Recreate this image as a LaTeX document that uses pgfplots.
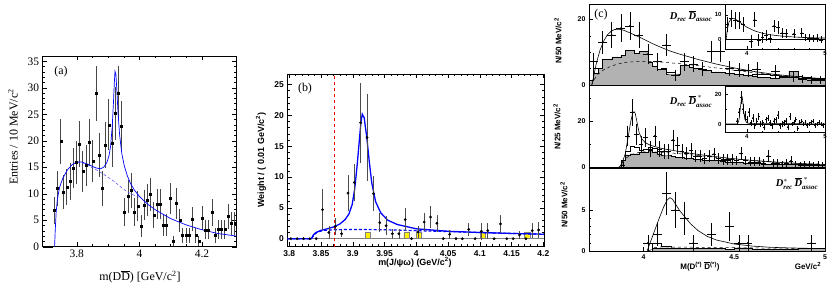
\documentclass[border=0pt]{standalone}
\usepackage{fontspec}
\setmainfont{Liberation Serif}
\setsansfont{Liberation Sans}
\usepackage{pgfplots}
\pgfplotsset{compat=1.18}
\pgfplotsset{
  rootaxis/.style={scale only axis, anchor=south west, axis line style={line width=0.5pt},
    major tick length=4.5bp, minor tick length=2.2bp, tick style={line width=0.4pt,black},
    /pgf/number format/assume math mode=true, clip=true},
  cpanel/.style={rootaxis, width=236bp, xmin=3.7, xmax=5.0, xtick={4,4.5,5}, minor x tick num=4,
    xtick pos=bottom, ytick pos=left,
    tick label style={font=\sffamily\bfseries\fontsize{7}{8}\selectfont},
    major tick length=4bp, minor tick length=2bp},
  cinset/.style={rootaxis, width=100bp, xmin=3.72, xmax=5.0, xtick={4,5}, minor x tick num=4,
    xtick pos=bottom, ytick pos=left, axis background/.style={fill=white},
    tick label style={font=\sffamily\bfseries\fontsize{6}{7}\selectfont},
    major tick length=3bp, minor tick length=1.5bp,
    xticklabel style={yshift=1bp}},
  cdata/.style={only marks, mark=*, mark size=0.55pt, black,
    error bars/.cd, x dir=both, x fixed=#1, y dir=both, y explicit,
    error bar style={line width=0.5pt, black}, error mark=none},
  cdata/.default=0.025,
}
\newcommand{\BD}{\mbox{\bfseries\itshape D}}
\newcommand{\BDbar}{\overline{\mbox{\bfseries\itshape D}}}
\newcommand{\BS}[1]{\mbox{\bfseries\itshape\fontsize{7}{8}\selectfont #1}}
\begin{document}
\begin{tikzpicture}
\useasboundingbox (0,0) rectangle (830bp,287bp);
%%%%%%%%%%%%%%%% Panel (a)
\begin{axis}[rootaxis, at={(42.7bp,40.3bp)}, width=194bp, height=190.7bp,
  xmin=3.691, xmax=4.311, ymin=0, ymax=36,
  xtick={3.8,4,4.2}, xticklabels={3.8,4,4.2}, minor x tick num=3,
  ytick={0,5,...,35}, minor y tick num=4,
  tick label style={font=\fontsize{11.5}{12}\selectfont}]
\addplot[only marks, mark=square*, mark size=1.0pt, black,
  error bars/.cd, y dir=both, y explicit,
  error bar style={gray!55!black, line width=0.7pt}, error mark=none]
 table[x index=0, y index=1, y error index=2] {
3.697 0 0
3.707 0 0
3.717 0 0
3.728 6.8 2.6
3.738 11.0 3.3
3.749 19.9 4.3
3.757 10.3 3.2
3.768 11.3 3.4
3.779 12.3 3.5
3.789 14.8 3.8
3.798 15.9 4.0
3.808 19.4 4.4
3.819 14.2 3.8
3.830 15.3 3.9
3.840 19.7 4.4
3.851 16.2 4.0
3.862 29.0 5.2
3.871 17.3 4.2
3.882 11.0 3.3
3.891 19.2 4.4
3.902 23.0 4.8
3.913 19.5 4.4
3.922 25.2 5.0
3.933 29.0 5.2
3.943 22.7 4.8
3.953 6.6 2.6
3.964 9.5 3.1
3.973 10.6 3.3
3.984 6.6 2.6
3.995 7.7 2.8
4.005 3.9 2.0
4.015 7.9 2.8
4.026 8.8 3.0
4.036 9.9 3.1
4.046 6.0 2.4
4.056 8.1 2.8
4.067 8.1 2.8
4.077 4.1 2.0
4.087 4.1 2.0
4.098 9.1 3.0
4.107 1.1 1.0
4.118 8.2 2.9
4.129 5.0 2.2
4.138 2.1 1.4
4.149 2.1 1.4
4.160 2.1 1.4
4.170 5.2 2.3
4.180 2.1 1.4
4.190 1.1 1.0
4.201 5.4 2.3
4.211 3.2 1.8
4.221 3.2 1.8
4.232 6.5 2.5
4.243 2.1 1.4
4.252 3.3 1.8
4.263 3.3 1.8
4.273 3.3 1.8
4.284 5.7 2.4
4.295 4.4 2.1
4.305 4.4 2.1
};
\addplot[blue!70!white, densely dashed, line width=0.5pt] coordinates {
(3.80,16.0)(3.82,15.8)(3.84,15.2)(3.86,14.6)(3.88,13.9)(3.90,13.1)(3.92,12.3)(3.94,11.3)(3.96,10.4)(3.98,9.8)(4.0,9.3)};
\addplot[blue, line width=0.7pt] coordinates {
(3.729,0)(3.731,3)(3.734,6.5)(3.738,9)(3.745,11.2)(3.755,12.9)(3.77,14.5)(3.785,15.5)(3.80,16.0)(3.815,16.0)(3.83,15.7)(3.845,15.3)(3.86,14.9)(3.875,14.7)(3.886,15.0)(3.896,15.9)(3.903,17.2)(3.908,19.0)(3.913,22.5)(3.917,27)(3.920,31)(3.922,33.1)(3.925,32.5)(3.928,29.5)(3.932,25)(3.937,21)(3.944,17.5)(3.952,15.2)(3.962,13.3)(3.972,11.9)(3.985,10.6)(4.0,9.5)(4.025,8.1)(4.05,7.0)(4.1,5.3)(4.15,4.1)(4.2,3.2)(4.25,2.5)(4.311,2.0)};
\end{axis}
\node[rotate=90, font=\fontsize{12}{13}\selectfont] at (13bp,150bp) {Entries / 10 MeV/c\textsuperscript{2}};
\node[font=\fontsize{12}{13}\selectfont] at (140bp,10bp) {m(D$\overline{\mbox{D}}$) [GeV/c\textsuperscript{2}]};
\node[font=\fontsize{12}{13}\selectfont] at (61bp,215bp) {(a)};
%%%%%%%%%%%%%%%% Panel (b)
\begin{axis}[rootaxis, at={(287.3bp,40.3bp)}, width=256.7bp, height=172.7bp,
  xmin=3.797, xmax=4.201, ymin=-1.3, ymax=26.7,
  xtick={3.8,3.85,...,4.21}, xticklabels={3.8,3.85,3.9,3.95,4,4.05,4.1,4.15,4.2}, minor x tick num=4,
  ytick={0,5,...,25}, minor y tick num=4,
  tick label style={font=\sffamily\bfseries\fontsize{8.5}{9}\selectfont}]
\addplot[gray, line width=0.8pt] coordinates {(3.797,0)(4.201,0)};
\addplot[ybar, bar width=0.008, fill=yellow, draw=gray, line width=0.4pt] coordinates {
(3.9235,1.0)(3.9845,1.0)(4.0045,1.0)(4.1045,1.0)(4.1745,1.1)};
\addplot[red, dashed, line width=0.7pt] coordinates {(3.8715,-1.3)(3.8715,26.7)};
\addplot[blue, densely dashed, line width=1.2pt] coordinates {
(3.797,0)(3.835,0)(3.84,0.7)(3.845,1.1)(3.855,1.35)(3.87,1.45)(3.9,1.5)(3.95,1.45)(4.0,1.3)(4.05,1.15)(4.1,1.0)(4.15,0.85)(4.201,0.72)};
\addplot[blue, line width=1.3pt] coordinates {
(3.797,0)(3.835,0)(3.838,0.6)(3.842,1.0)(3.85,1.35)(3.86,1.6)(3.87,1.9)(3.88,2.4)(3.888,3.1)(3.894,4.0)(3.899,5.5)(3.903,8)(3.907,12)(3.910,15.5)(3.913,19.0)(3.915,20.2)(3.918,19.6)(3.922,16.5)(3.926,12.5)(3.930,9.0)(3.936,6.0)(3.944,4.2)(3.955,3.0)(3.97,2.3)(4.0,1.6)(4.05,1.2)(4.1,1.0)(4.15,0.85)(4.201,0.72)};
\addplot[only marks, mark=*, mark size=1.2pt, black,
  error bars/.cd, y dir=both, y explicit,
  error bar style={gray!60!black, line width=0.6pt}, error mark=none]
 table[x index=0, y index=1, y error index=2] {
3.8025 0 0
3.8125 0 0
3.8225 0 0
3.8325 0 0
3.8425 0 0
3.8525 4.7 3.3
3.8625 1.0 1.0
3.8725 2.0 1.4
3.8825 0.8 0.6
3.8925 7.4 2.9
3.9025 9.1 3.0
3.9125 18.8 6.5
3.9225 16.4 7.0
3.9325 7.3 2.8
3.9425 2.6 1.5
3.9525 2.1 1.5
3.9625 0.8 0.8
3.9725 0.8 0.8
3.9825 3.1 1.9
3.9925 0 0
4.0025 1.1 1.0
4.0125 2.7 1.5
4.0225 3.5 1.8
4.0325 2.5 1.4
4.0425 0 0
4.0525 0.7 0.7
4.0625 0 0
4.0725 0 0
4.0825 1.5 1.1
4.0925 0 0
4.1025 1.2 1.4
4.1125 1.3 1.3
4.1225 0 0
4.1325 2.4 1.4
4.1425 0 0
4.1525 0 0
4.1625 0.6 0.6
4.1725 0 0
4.1825 1.3 1.2
4.1925 1.4 1.3
};
\end{axis}
\node[rotate=90, font=\sffamily\bfseries\fontsize{9}{10}\selectfont] at (261bp,127bp) {Weight / ( 0.01 GeV/c\textsuperscript{2})};
\node[font=\sffamily\bfseries\fontsize{9}{10}\selectfont] at (415bp,25bp) {m(J/ψω) (GeV/c\textsuperscript{2})};
\node[font=\fontsize{12}{13}\selectfont] at (305bp,198bp) {(b)};
%%%%%%%%%%%%%%%% Panel (c) top
\begin{axis}[cpanel, at={(589bp,202bp)}, height=81bp, ymin=0, ymax=24.7,
  ytick={0,20}, minor ytick={5,10,15}, xticklabels={}]
\addplot[const plot, fill=white, draw=black, line width=0.3pt] coordinates {
(3.700,1.5)(3.725,5.0)(3.750,5.0)(3.775,7.9)(3.800,7.9)(3.825,8.6)(3.850,8.6)(3.875,9.1)(3.900,10.5)(3.925,10.5)(3.950,9.6)(3.975,10.2)(4.000,10.2)(4.025,7.1)(4.050,5.8)(4.075,4.8)(4.100,5.2)(4.125,4.0)(4.150,4.0)(4.175,3.4)(4.200,6.0)(4.225,6.0)(4.250,5.5)(4.275,5.2)(4.300,5.0)(4.325,4.5)(4.350,4.5)(4.375,4.0)(4.400,4.0)(4.425,3.8)(4.450,3.5)(4.475,3.5)(4.500,3.3)(4.525,3.3)(4.550,3.0)(4.575,3.0)(4.600,3.3)(4.625,3.3)(4.650,3.3)(4.675,3.2)(4.700,3.0)(4.725,3.0)(4.750,2.8)(4.775,2.8)(4.800,4.2)(4.825,4.2)(4.850,2.6)(4.875,2.4)(4.900,2.4)(4.925,2.2)(4.950,2.2)(4.975,2.0)(5.000,2.0)} \closedcycle;
\addplot[const plot, fill=gray!60, draw=black, line width=0.3pt] coordinates {
(3.700,1.5)(3.725,3.5)(3.750,5.0)(3.775,7.9)(3.800,7.9)(3.825,8.6)(3.850,8.6)(3.875,9.1)(3.900,10.5)(3.925,10.5)(3.950,9.6)(3.975,10.2)(4.000,10.2)(4.025,7.1)(4.050,5.8)(4.075,4.8)(4.100,4.8)(4.125,3.4)(4.150,3.4)(4.175,3.4)(4.200,6.0)(4.225,6.0)(4.250,5.5)(4.275,5.2)(4.300,5.0)(4.325,4.5)(4.350,4.5)(4.375,4.0)(4.400,4.0)(4.425,3.8)(4.450,3.5)(4.475,3.5)(4.500,3.3)(4.525,3.3)(4.550,3.0)(4.575,3.0)(4.600,2.8)(4.625,2.5)(4.650,2.4)(4.675,2.4)(4.700,2.2)(4.725,2.2)(4.750,2.3)(4.775,2.3)(4.800,4.2)(4.825,4.2)(4.850,2.2)(4.875,2.0)(4.900,2.0)(4.925,1.8)(4.950,1.8)(4.975,1.8)(5.000,1.8)} \closedcycle;
\addplot[black, dashed, line width=0.5pt] coordinates {
(3.715,0)(3.73,1.8)(3.75,3.3)(3.78,4.6)(3.82,5.7)(3.86,6.4)(3.9,6.9)(3.95,7.1)(4.0,7.2)(4.1,7.0)(4.2,6.5)(4.3,5.9)(4.4,5.2)(4.5,4.5)(4.6,3.8)(4.7,3.2)(4.8,2.7)(4.9,2.2)(5.0,1.9)};
\addplot[black, line width=0.6pt] coordinates {
(3.715,0)(3.725,2.5)(3.74,6.5)(3.76,10.5)(3.78,13.3)(3.80,15.2)(3.82,16.3)(3.84,16.9)(3.86,17.0)(3.88,16.9)(3.90,16.5)(3.95,15.3)(4.0,14.0)(4.05,12.6)(4.1,11.4)(4.15,10.3)(4.2,9.4)(4.3,7.8)(4.4,6.4)(4.5,5.2)(4.6,4.2)(4.7,3.4)(4.8,2.8)(4.9,2.3)(5.0,1.9)};
\addplot[cdata] table[x index=0, y index=1, y error index=2] {
3.725 7.1 2.7
3.775 12.9 3.6
3.825 15.3 3.9
3.875 17.3 4.2
3.925 18.0 4.2
3.975 15.2 3.9
4.025 9.5 3.1
4.075 7.1 2.7
4.125 12.2 3.5
4.175 3.0 1.7
4.225 7.1 2.7
4.275 6.4 2.5
4.325 4.8 2.2
4.375 10.2 3.2
4.425 10.2 3.2
4.475 5.1 2.3
4.525 4.6 2.1
4.575 4.4 2.1
4.625 4.8 2.2
4.725 4.1 2.0
4.825 2.4 1.5
4.875 1.8 1.3
4.925 1.5 1.2
4.975 1.5 1.2
};
\end{axis}
%%%%%%%%%%%%%%%% Panel (c) middle
\begin{axis}[cpanel, at={(589bp,118.7bp)}, height=83.3bp, ymin=-0.35, ymax=35.9,
  ytick={0,20}, minor ytick={10,30}, xticklabels={}]
\addplot[const plot, fill=white, draw=black, line width=0.3pt] coordinates {
(3.700,0)(3.875,3.0)(3.900,7.0)(3.925,9.5)(3.950,9.0)(3.975,7.5)(4.000,8.0)(4.025,9.0)(4.050,8.5)(4.075,7.0)(4.100,5.5)(4.125,5.5)(4.150,5.0)(4.175,4.5)(4.200,4.5)(4.225,4.0)(4.250,4.0)(4.275,3.5)(4.300,3.5)(4.325,3.2)(4.350,3.2)(4.375,3.0)(4.400,3.0)(4.425,3.4)(4.450,3.2)(4.475,2.5)(4.500,2.2)(4.525,2.2)(4.550,2.0)(4.575,2.0)(4.600,1.8)(4.625,1.8)(4.650,1.6)(4.675,1.6)(4.700,1.5)(4.725,1.5)(4.750,1.4)(4.775,1.4)(4.800,1.3)(4.825,1.3)(4.850,1.2)(4.875,1.2)(4.900,1.1)(4.925,1.1)(4.950,1.0)(4.975,1.0)(5.000,1.0)} \closedcycle;
\addplot[const plot, fill=gray!60, draw=black, line width=0.3pt] coordinates {
(3.700,0)(3.875,3.0)(3.900,5.5)(3.925,6.0)(3.950,6.0)(3.975,6.5)(4.000,6.5)(4.025,7.5)(4.050,6.5)(4.075,6.0)(4.100,5.5)(4.125,5.5)(4.150,5.0)(4.175,4.5)(4.200,4.5)(4.225,4.0)(4.250,4.0)(4.275,3.5)(4.300,3.5)(4.325,3.2)(4.350,3.2)(4.375,3.0)(4.400,3.0)(4.425,2.8)(4.450,2.5)(4.475,2.5)(4.500,2.2)(4.525,2.2)(4.550,2.0)(4.575,2.0)(4.600,1.8)(4.625,1.8)(4.650,1.6)(4.675,1.6)(4.700,1.5)(4.725,1.5)(4.750,1.4)(4.775,1.4)(4.800,1.3)(4.825,1.3)(4.850,1.2)(4.875,1.2)(4.900,1.1)(4.925,1.1)(4.950,1.0)(4.975,1.0)(5.000,1.0)} \closedcycle;
\addplot[black, dashed, line width=0.5pt] coordinates {
(3.865,0)(3.88,1.5)(3.9,3.8)(3.93,5.5)(3.97,6.5)(4.0,6.8)(4.05,6.8)(4.1,6.6)(4.2,6.0)(4.3,5.2)(4.4,4.4)(4.5,3.7)(4.6,3.0)(4.7,2.4)(4.8,2.0)(4.9,1.6)(5.0,1.3)};
\addplot[black, line width=0.6pt] coordinates {
(3.865,0)(3.88,1.5)(3.9,6)(3.915,13)(3.93,20)(3.94,23.5)(3.948,24.3)(3.955,23.5)(3.965,19.5)(3.975,15.5)(3.99,12.5)(4.01,10.8)(4.04,9.6)(4.1,8.3)(4.2,6.9)(4.3,5.7)(4.4,4.7)(4.5,3.8)(4.6,3.1)(4.7,2.5)(4.8,2.0)(4.9,1.6)(5.0,1.3)};
\addplot[cdata=0.0125] table[x index=0, y index=1, y error index=2] {
3.8875 1.0 1.2
3.9125 13.7 4.4
3.9375 24.0 6.0
3.9625 14.5 4.5
3.9875 10.0 3.8
4.0125 13.1 4.3
4.0375 8.0 3.4
4.0625 13.7 4.4
4.0875 8.0 3.4
4.1125 7.0 3.2
4.1375 7.0 3.2
4.1625 12.0 4.2
4.1875 9.6 3.7
4.2125 7.0 3.2
4.2375 6.0 2.9
4.2625 7.3 3.2
4.2875 5.0 2.7
4.3125 5.1 2.7
4.3375 4.0 2.4
4.3625 5.1 2.7
4.3875 5.8 2.9
4.4125 4.0 2.4
4.4375 3.5 2.2
4.4625 3.5 2.2
4.4875 3.5 2.2
4.5125 3.0 2.1
4.5375 6.1 3.0
4.5625 3.0 2.1
4.5875 2.5 1.9
4.6125 2.5 1.9
4.6375 2.5 1.9
4.6625 2.0 1.7
4.6875 5.1 2.7
4.7125 2.0 1.7
4.7375 2.0 1.7
4.7625 1.5 1.5
4.7875 2.0 1.7
4.8125 2.9 2.0
4.8375 1.5 1.5
4.8625 1.2 1.3
4.8875 1.5 1.5
4.9125 1.5 1.5
4.9375 1.2 1.3
4.9625 1.5 1.5
4.9875 1.0 1.2
};
\end{axis}
%%%%%%%%%%%%%%%% Panel (c) bottom
\begin{axis}[cpanel, at={(589bp,36bp)}, height=82.7bp, ymin=0, ymax=10.08,
  ytick={0,5}, minor y tick num=4, xticklabels={4,4.5,5}]
\addplot[const plot, fill=white, draw=black, line width=0.3pt] coordinates {
(4.0,0)(4.05,1.0)(4.1,0.6)(4.15,0.4)(4.2,0.3)(4.3,0.35)(4.45,0.2)(4.5,0.4)(4.6,0.25)(4.85,0.3)(5.0,0.3)} \closedcycle;
\addplot[const plot, fill=gray!60, draw=black, line width=0.3pt] coordinates {
(4.0,0)(4.05,0.3)(4.1,0.4)(4.2,0.3)(4.3,0.35)(4.45,0.2)(4.5,0.4)(4.6,0.25)(4.85,0.3)(5.0,0.3)} \closedcycle;
\addplot[black, dashed, line width=0.5pt] coordinates {
(4.03,0)(4.06,0.4)(4.1,0.5)(4.3,0.45)(4.5,0.4)(4.7,0.35)(5.0,0.3)};
\addplot[black, line width=0.6pt] coordinates {
(4.02,0)(4.05,1.8)(4.08,3.6)(4.11,5.3)(4.13,6.2)(4.145,6.5)(4.16,6.3)(4.18,5.6)(4.2,4.9)(4.23,4.1)(4.26,3.3)(4.3,2.5)(4.35,1.8)(4.4,1.35)(4.5,0.85)(4.6,0.6)(4.7,0.45)(4.8,0.38)(4.9,0.33)(5.0,0.3)};
\addplot[cdata] table[x index=0, y index=1, y error index=2] {
4.025 1 1
4.075 2 1.41
4.125 7 2.65
4.175 5 2.24
4.225 4 2
4.275 1 1
4.375 2 1.41
4.475 3 1.73
4.525 1 1
4.575 1 1
4.925 1 1
};
\end{axis}
%%%%%%%%%%%%%%%% Inset top
\begin{axis}[cinset, at={(725bp,237.7bp)}, height=45.3bp, ymin=-4.2, ymax=14.5,
  ytick={0,10}, minor ytick={5}]
\addplot[black, line width=0.5pt] coordinates {(3.72,0)(5.0,0)};
\addplot[black, line width=0.6pt] coordinates {
(3.735,0)(3.75,4)(3.77,7)(3.8,8.4)(3.83,8.6)(3.86,8.1)(3.9,7.2)(3.95,6.0)(4.0,4.9)(4.1,3.4)(4.2,2.4)(4.3,1.8)(4.4,1.4)(4.5,1.1)(4.6,0.9)(4.7,0.7)(4.8,0.6)(4.9,0.5)(5.0,0.45)};
\addplot[only marks, mark=*, mark size=0.5pt, black,
  error bars/.cd, x dir=both, x fixed=0.025, y dir=both, y explicit,
  error bar style={line width=0.45pt, black}, error mark=none]
 table[x index=0, y index=1, y error index=2] {
3.75 6.0 3.0
3.80 8.5 3.5
3.85 7.8 3.5
3.90 7.5 3.5
3.95 6.0 3.0
4.05 -1.0 2.5
4.10 8.0 3.0
4.15 -0.5 2.5
4.20 0.8 2.2
4.25 1.5 2.2
4.30 0.3 2.0
4.35 5.5 2.5
4.40 4.8 2.5
4.45 2.5 2.0
4.50 2.3 2.0
4.60 2.2 1.8
4.70 2.6 1.8
4.75 0.8 1.5
4.80 0.5 1.5
4.85 0.3 1.5
4.90 0.5 1.5
4.95 -0.3 1.5
};
\end{axis}
%%%%%%%%%%%%%%%% Inset middle
\begin{axis}[cinset, at={(725bp,154.7bp)}, height=45.6bp, ymin=-5.5, ymax=24.9,
  ytick={0,20}, minor ytick={10}]
\addplot[black, line width=0.5pt] coordinates {(3.72,0)(5.0,0)};
\addplot[black, line width=0.6pt] coordinates {
(3.72,0)(3.88,0)(3.9,3)(3.915,10)(3.93,17)(3.94,18)(3.95,14)(3.96,8)(3.975,3)(4.0,0.8)(4.05,0.3)(5.0,0.1)};
\addplot[only marks, mark=*, mark size=0.5pt, black,
  error bars/.cd, x dir=both, x fixed=0.0125, y dir=both, y explicit,
  error bar style={line width=0.45pt, black}, error mark=none]
 table[x index=0, y index=1, y error index=2] {
3.875 2 2
3.900 8 3
3.925 17.8 4.5
3.950 10 3.5
3.975 6 3
4.000 3 2.5
4.025 8 3
4.050 1 2
4.075 4 2.5
4.100 -1 2
4.125 2 2
4.150 5 2.5
4.175 0 2
4.200 1 2
4.225 -2 2
4.250 3 2
4.275 4 2
4.300 1 2
4.325 -1 2
4.350 2 2
4.375 3 2
4.400 6 2.5
4.425 -1 2
4.450 0 2
4.475 1 2
4.500 2 2
4.525 -2 2
4.550 5 2.5
4.575 0 1.5
4.600 1 1.5
4.625 3 1.5
4.650 -3 1.5
4.675 1 1.5
4.700 2 1.5
4.725 0 1.5
4.750 1 1.5
4.775 -1 1.5
4.800 0 1.5
4.825 1 1.5
4.850 2 1.5
4.875 -1 1.5
4.900 0 1.5
4.925 1 1.5
4.950 0 1.5
4.975 -1 1.5
};
\end{axis}
%%%%%%%%%%%%%%%% Panel (c) texts
\node[font=\fontsize{12}{13}\selectfont] at (601bp,272bp) {(c)};
\node[font=\fontsize{10.5}{11}\selectfont] at (691bp,271bp) {$\BD_{\BS{rec}}\,\BDbar_{\BS{assoc}}$};
\node[font=\fontsize{10.5}{11}\selectfont] at (691bp,186bp) {$\BD_{\BS{rec}}\,\BDbar^{\,*}_{\BS{assoc}}$};
\node[font=\fontsize{10.5}{11}\selectfont] at (797bp,104bp) {$\BD^{*}_{\BS{rec}}\,\BDbar^{\,*}_{\BS{assoc}}$};
\node[rotate=90, font=\sffamily\bfseries\fontsize{8}{9}\selectfont] at (558bp,246bp) {N/50 MeV/c\textsuperscript{2}};
\node[rotate=90, font=\sffamily\bfseries\fontsize{8}{9}\selectfont] at (557bp,160bp) {N/25 MeV/c\textsuperscript{2}};
\node[rotate=90, font=\sffamily\bfseries\fontsize{8}{9}\selectfont] at (564bp,82bp) {N/50 MeV/c\textsuperscript{2}};
\node[font=\sffamily\bfseries\fontsize{8}{9}\selectfont] at (700bp,20.5bp) {M(D\textsuperscript{(*)} $\overline{\mbox{D}}$\textsuperscript{(*)})};
\node[font=\sffamily\bfseries\fontsize{8}{9}\selectfont] at (808bp,21bp) {GeV/c\textsuperscript{2}};
\end{tikzpicture}
\end{document}
